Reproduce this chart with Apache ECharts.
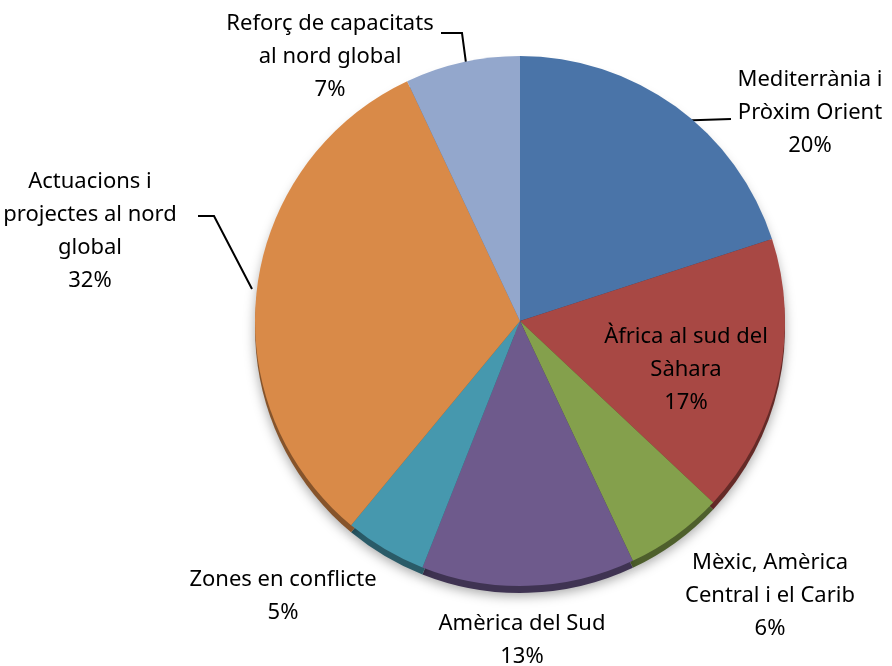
<!DOCTYPE html>
<html>
<head>
<meta charset="utf-8">
<script src="https://cdn.jsdelivr.net/npm/echarts@6/dist/echarts.min.js"></script>
<style>
  html, body { margin: 0; padding: 0; background: #fff; }
  #chart { width: 892px; height: 666px; }
</style>
</head>
<body>
<div id="chart"></div>
<script>
// slices, clockwise from 12 o'clock
const regions = [
  'Mediterrània i\nPròxim Orient',
  'Àfrica al sud del\nSàhara',
  'Mèxic, Amèrica\nCentral i el Carib',
  'Amèrica del Sud',
  'Zones en conflicte',
  'Actuacions i\nprojectes al nord\nglobal',
  'Reforç de capacitats\nal nord global'
]
const shares = [20, 17, 6, 13, 5, 32, 7]

const colors = ['#4A74A8', '#A84844', '#84A04C', '#6E5A8C', '#4698AE', '#D98A48', '#93A7CC']
const sideColors = ['#2B4566', '#652A27', '#4E5F2C', '#3F3352', '#2A5B68', '#86542B', '#5A6780']

// where each label sits (x, y centre) and optional leader line
const labelPos = [
  { x: 810, y: 113, line: [[670, 121], [731, 119]] },
  { x: 686, y: 370 },
  { x: 770, y: 596 },
  { x: 522, y: 640 },
  { x: 283, y: 596 },
  { x: 90, y: 231, line: [[198, 216], [214, 216], [252, 289]] },
  { x: 330, y: 57, line: [[441, 33], [462, 33], [468, 78]] }
]

const chart = echarts.init(document.getElementById('chart'))

chart.setOption({
  animation: false,
  series: [
    {
      // rim / depth under the pie
      type: 'pie',
      silent: true,
      center: [520, 328],
      radius: 265,
      startAngle: 90,
      clockwise: true,
      label: { show: false },
      labelLine: { show: false },
      itemStyle: { shadowBlur: 12, shadowColor: 'rgba(0,0,0,0.35)', shadowOffsetY: 3 },
      data: shares.map((v, i) => ({
        value: v,
        name: regions[i],
        itemStyle: { color: sideColors[i] }
      }))
    },
    {
      type: 'pie',
      center: [520, 321],
      radius: 265,
      startAngle: 90,
      clockwise: true,
      label: {
        show: true,
        formatter: p => p.name + '\n' + p.value + '%',
        fontFamily: 'Noto Sans',
        fontSize: 22,
        lineHeight: 33,
        color: '#000',
        align: 'center',
        overflow: 'none'
      },
      labelLine: {
        show: true,
        lineStyle: { color: '#000', width: 2 }
      },
      labelLayout: function (params) {
        const p = labelPos[params.dataIndex]
        const out = { x: p.x, y: p.y, align: 'center', verticalAlign: 'middle' }
        if (p.line) out.labelLinePoints = p.line
        return out
      },
      data: shares.map((v, i) => ({
        value: v,
        name: regions[i],
        itemStyle: { color: colors[i] },
        labelLine: { show: !!labelPos[i].line }
      }))
    }
  ]
})
</script>
</body>
</html>
